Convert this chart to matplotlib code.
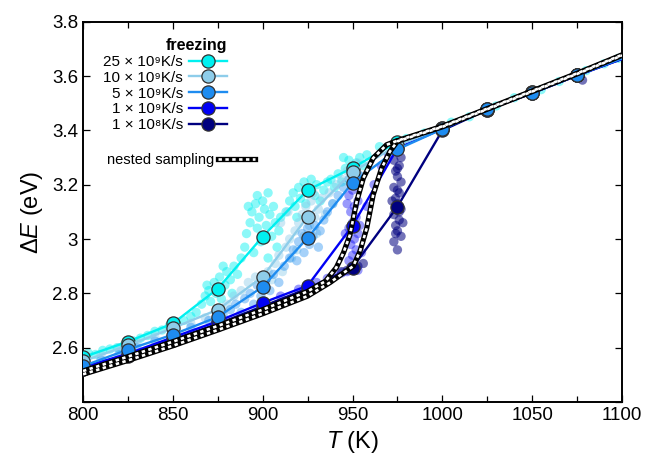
import matplotlib
matplotlib.use("Agg")
import matplotlib.pyplot as plt
from matplotlib.lines import Line2D
from matplotlib.legend_handler import HandlerTuple
from matplotlib.ticker import MultipleLocator, FuncFormatter

plt.rcParams['font.family'] = ['Liberation Sans', 'DejaVu Sans']
plt.rcParams['mathtext.fontset'] = 'custom'
plt.rcParams['mathtext.rm'] = 'Liberation Sans'
plt.rcParams['mathtext.it'] = 'Liberation Sans:italic'
plt.rcParams['mathtext.bf'] = 'Liberation Sans:bold'

# ---------------- data ----------------
T = [800, 825, 850, 875, 900, 925, 950, 975, 1000, 1025, 1050, 1075, 1100]

E_25e9 = [2.565, 2.622, 2.689, 2.817, 3.009, 3.180, 3.262, 3.357, 3.410, 3.478, 3.540, 3.605, 3.668]
E_10e9 = [2.550, 2.608, 2.672, 2.740, 2.861, 3.082, 3.247, 3.345, 3.408, 3.478, 3.540, 3.605, 3.668]
E_5e9  = [2.532, 2.593, 2.648, 2.713, 2.824, 3.004, 3.207, 3.330, 3.405, 3.478, 3.538, 3.603, 3.665]
E_1e9  = [2.528, 2.578, 2.638, 2.697, 2.765, 2.828, 3.049, 3.335, 3.405, 3.476, 3.537, 3.602, 3.663]
E_1e8  = [2.520, 2.570, 2.630, 2.688, 2.752, 2.818, 2.895, 3.119, 3.400, 3.476, 3.537, 3.602, 3.663]

labels = ['25 × 10⁹K/s', '10 × 10⁹K/s', '5 × 10⁹K/s',
          '1 × 10⁹K/s', '1 × 10⁸K/s']
colors = ['#00F0F0', '#8ECDEA', '#1E8CF0', '#0000F5', '#00007F']

# scattered instantaneous samples
sT_25e9 = [800, 803, 807, 811, 815, 819, 823, 828, 832, 836, 840, 844, 848, 852, 856, 860, 863,
           866, 868, 870, 871, 873, 874, 876, 877, 879, 880, 882, 884, 869, 878, 883, 886,
           888, 890, 891, 893, 894, 895, 896, 897, 898, 899, 900, 901, 902, 903, 904, 905, 906, 907, 908, 909, 910, 892, 897, 903,
           913, 915, 917, 918, 920, 921, 923, 924, 926, 927, 929, 930, 932, 934, 936, 919,
           938, 940, 942, 944, 946, 948, 950, 952, 954, 956, 958, 945,
           965, 980, 990, 1005, 1015, 1030, 1040, 1055, 1065, 1080, 1090, 1098]
sE_25e9 = [2.570, 2.580, 2.575, 2.590, 2.595, 2.600, 2.610, 2.625, 2.635, 2.645, 2.660, 2.665, 2.680, 2.690, 2.700, 2.715, 2.730,
           2.760, 2.790, 2.810, 2.770, 2.840, 2.800, 2.860, 2.780, 2.830, 2.880, 2.850, 2.900, 2.830, 2.900, 2.800, 2.870,
           2.930, 2.970, 3.020, 3.060, 3.100, 2.950, 3.130, 3.040, 3.080, 2.990, 3.140, 3.110, 3.050, 2.930, 3.090, 3.010, 3.120, 3.060, 2.970, 3.030, 3.080, 3.120, 3.160, 3.170,
           3.100, 3.140, 3.170, 3.120, 3.190, 3.150, 3.210, 3.130, 3.180, 3.220, 3.160, 3.200, 3.140, 3.180, 3.210, 3.080,
           3.220, 3.190, 3.240, 3.210, 3.260, 3.290, 3.240, 3.280, 3.300, 3.270, 3.310, 3.300,
           3.340, 3.370, 3.390, 3.430, 3.450, 3.490, 3.520, 3.550, 3.580, 3.620, 3.645, 3.665]

sT_10e9 = [800, 810, 820, 830, 840, 850, 860, 868, 876, 880, 884, 888, 892, 896, 900, 903, 905, 907, 909, 911,
           913, 915, 916, 918, 919, 920, 922, 923, 924, 926, 927, 929, 930, 931, 933, 935, 937, 939, 941, 944,
           947, 950, 953, 910, 914, 928]
sE_10e9 = [2.555, 2.575, 2.600, 2.620, 2.640, 2.665, 2.690, 2.710, 2.740, 2.760, 2.790, 2.810, 2.840, 2.860, 2.820, 2.880, 2.850, 2.910, 2.940, 2.880,
           2.970, 3.000, 2.930, 3.030, 2.960, 3.060, 3.090, 3.010, 3.120, 3.050, 3.140, 3.080, 3.020, 3.110, 3.150, 3.090, 3.170, 3.130, 3.200, 3.220,
           3.250, 3.270, 3.280, 3.060, 3.100, 3.170]

sT_5e9 = [800, 810, 820, 830, 840, 850, 860, 870, 878, 882, 885, 888, 890, 893, 895, 897, 899, 902, 904, 906,
          909, 912, 915, 917, 919, 920, 922, 923, 925, 926, 928, 929, 931, 932, 934, 936, 939, 942, 945, 948,
          951, 953, 955]
sE_5e9 = [2.535, 2.555, 2.575, 2.600, 2.625, 2.650, 2.675, 2.700, 2.720, 2.740, 2.760, 2.730, 2.780, 2.800, 2.760, 2.830, 2.790, 2.850, 2.810, 2.870,
          2.840, 2.900, 2.930, 2.960, 2.920, 2.990, 3.020, 2.950, 3.040, 2.980, 3.010, 3.050, 2.970, 3.030, 3.070, 3.100, 3.130, 3.160, 3.190, 3.220,
          3.200, 3.240, 3.230]

sT_1e9 = [900, 910, 920, 930, 936, 940, 944, 947, 949, 951, 953, 948, 950, 952, 949, 951, 953, 948, 950, 952,
          949, 951, 953, 948, 950, 952, 947, 954, 946, 955, 958, 962, 966, 970]
sE_1e9 = [2.765, 2.790, 2.815, 2.840, 2.855, 2.865, 2.875, 2.880, 2.890, 2.900, 2.885, 2.920, 2.940, 2.960, 2.980, 3.000, 3.020, 3.040, 3.060, 3.080,
          3.100, 3.120, 3.140, 3.160, 3.180, 3.200, 3.130, 3.050, 3.020, 2.950, 3.120, 3.200, 3.270, 3.310]

sT_1e8 = [944, 947, 950, 953, 956, 975, 973, 977, 975, 974, 976, 973, 977, 975, 974, 976, 973, 977, 975, 974,
          976, 973, 977, 975, 974, 976, 975, 972, 978, 975, 1078]
sE_1e8 = [2.880, 2.885, 2.895, 2.900, 2.910, 2.960, 2.990, 3.010, 3.030, 3.050, 3.070, 3.090, 3.110, 3.130, 3.150, 3.170, 3.190, 3.210, 3.230, 3.250,
          3.270, 3.290, 3.300, 3.320, 3.020, 3.100, 3.180, 3.140, 3.060, 3.260, 3.585]

# nested sampling curves
NS_T_a = [800, 825, 850, 875, 900, 925, 935, 941, 945, 948.6, 952.3, 956, 961.5, 969, 975, 1000, 1025, 1050, 1075, 1100]
NS_E_a = [2.514, 2.567, 2.622, 2.680, 2.740, 2.807, 2.845, 2.895, 2.950, 3.016, 3.138, 3.224, 3.298, 3.347, 3.362, 3.415, 3.480, 3.545, 3.610, 3.678]
NS_T_b = [800, 825, 850, 875, 900, 925, 937.5, 946, 950.4, 954.1, 957.9, 961.5, 966.2, 970.8, 975, 1000, 1025, 1050, 1075, 1100]
NS_E_b = [2.502, 2.553, 2.607, 2.665, 2.725, 2.790, 2.840, 2.880, 2.900, 2.954, 3.040, 3.163, 3.261, 3.322, 3.360, 3.413, 3.478, 3.543, 3.608, 3.676]

# ---------------- figure ----------------
fig = plt.figure(figsize=(6.5, 4.62), dpi=100)
ax = fig.add_axes([0.1277, 0.1299, 0.8293, 0.8231])

series = [E_25e9, E_10e9, E_5e9, E_1e9, E_1e8]
scat = [(sT_25e9, sE_25e9), (sT_10e9, sE_10e9), (sT_5e9, sE_5e9), (sT_1e9, sE_1e9), (sT_1e8, sE_1e8)]
alphas = [0.45, 0.45, 0.4, 0.4, 0.55]

for (st, se), c, a in zip(scat, colors, alphas):
    ax.scatter(st, se, s=45, color=c, alpha=a, edgecolors='none', zorder=1)

zorders = [3.3, 3.4, 3.5, 3.2, 3.1]
handles = []
for E, c, lab, z in zip(series, colors, labels, zorders):
    h, = ax.plot(T, E, '-', color=c, lw=1.7, marker='o', ms=9.5,
                 mfc=c, mec='#303030', mew=0.9, markevery=list(range(len(T) - 1)),
                 zorder=z, label=lab)
    handles.append(h)

for tt, ee in [(NS_T_a, NS_E_a), (NS_T_b, NS_E_b)]:
    ax.plot(tt, ee, color='black', lw=3.8, zorder=5, solid_capstyle='butt')
    ax.plot(tt, ee, color='white', lw=1.9, dashes=(1.3, 1.3), zorder=6)

ax.set_xlim(800, 1100)
ax.set_ylim(2.4, 3.8)
ax.xaxis.set_major_locator(MultipleLocator(50))
ax.xaxis.set_minor_locator(MultipleLocator(25))
ax.yaxis.set_major_locator(MultipleLocator(0.2))
ax.yaxis.set_major_formatter(FuncFormatter(lambda v, p: '' if v < 2.5 else '%g' % round(v, 2)))
ax.tick_params(which='both', direction='in', top=True, right=True, labelsize=13.5, width=0.9)
ax.tick_params(which='major', length=5)
ax.tick_params(which='minor', length=4)
for sp in ax.spines.values():
    sp.set_linewidth(1.4)

ax.set_xlabel('$T$ (K)', fontsize=17, labelpad=4)
ax.set_ylabel(r'$\Delta E$ (eV)', fontsize=17, labelpad=5)

leg1 = ax.legend(handles=handles, loc='upper left', bbox_to_anchor=(0.018, 0.985),
                 frameon=False, markerfirst=False, fontsize=11, title='freezing',
                 title_fontproperties={'weight': 'bold', 'size': 11.5},
                 handlelength=2.5, handletextpad=0.4, labelspacing=0.12, borderpad=0.2)
for t in leg1.get_texts():
    t.set_ha('right')
leg1._legend_box.align = 'right'
ax.add_artist(leg1)

ns_black = Line2D([], [], color='black', lw=3.8)
ns_white = Line2D([], [], color='white', lw=1.9, dashes=(1.3, 1.3))
ax.legend([(ns_black, ns_white)], ['nested sampling'], handler_map={tuple: HandlerTuple(ndivide=1)},
          loc='center left', bbox_to_anchor=(0.025, 0.636), frameon=False, markerfirst=False,
          fontsize=10.5, handlelength=2.5, handletextpad=0.3, borderpad=0.2)

fig.savefig('out.png', dpi=100)
